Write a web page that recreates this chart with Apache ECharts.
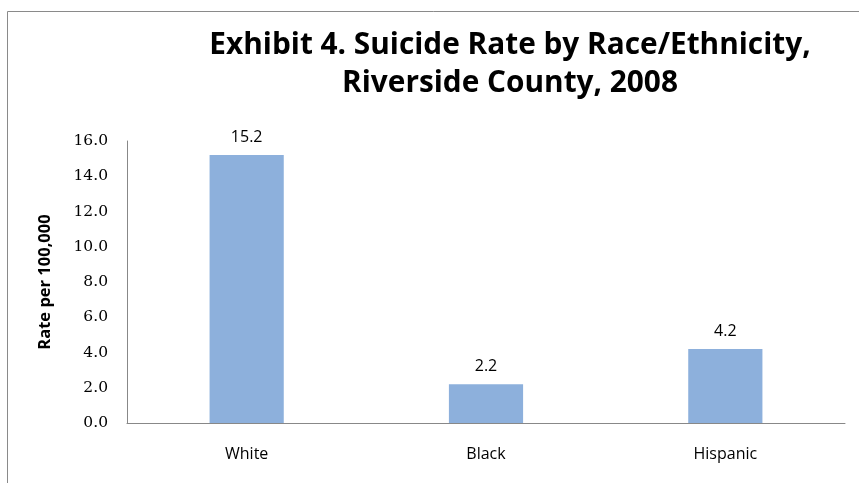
<!DOCTYPE html>
<html>
<head>
<meta charset="utf-8">
<script src="https://cdn.jsdelivr.net/npm/echarts@6/dist/echarts.min.js"></script>
<style>
  html, body { margin: 0; padding: 0; background: #fff; }
  #chart { width: 859px; height: 483px; }
</style>
</head>
<body>
<div id="chart"></div>
<script>
// Suicide rate per 100,000 by race/ethnicity, Riverside County, 2008
const categories = ['White', 'Black', 'Hispanic'];
const rates = [15.2, 2.2, 4.2];
const titleLines = ['Exhibit 4. Suicide Rate by Race/Ethnicity,', 'Riverside County, 2008'];
const yAxisName = 'Rate per 100,000';

const chart = echarts.init(document.getElementById('chart'), null, { renderer: 'canvas' });

chart.setOption({
  animation: false,
  backgroundColor: '#ffffff',
  title: {
    text: titleLines.join('\n'),
    left: 505,
    top: 22,
    textAlign: 'center',
    textStyle: {
      fontFamily: 'Open Sans',
      fontWeight: 'bold',
      fontSize: 29.8,
      lineHeight: 38,
      color: '#000000'
    }
  },
  graphic: [{
    type: 'rect',
    shape: { x: 7.5, y: 11.5, width: 1000, height: 1000 },
    style: { fill: 'none', stroke: '#8a8a8a', lineWidth: 1 },
    silent: true
  }],
  grid: { left: 127, right: 14, top: 141, bottom: 60, containLabel: false },
  xAxis: {
    type: 'category',
    data: categories,
    axisLine: { lineStyle: { color: '#888888', width: 1 } },
    axisTick: { show: false },
    axisLabel: {
      margin: 23,
      fontFamily: 'Open Sans',
      fontSize: 16,
      color: '#000000'
    }
  },
  yAxis: {
    type: 'value',
    min: 0,
    max: 16,
    interval: 2,
    name: yAxisName,
    nameLocation: 'middle',
    nameGap: 73,
    nameRotate: 90,
    nameTextStyle: {
      fontFamily: 'Open Sans',
      fontWeight: 'bold',
      fontSize: 16.5,
      color: '#000000'
    },
    axisLine: { show: true, lineStyle: { color: '#888888', width: 1 } },
    axisTick: { show: false },
    splitLine: { show: false },
    axisLabel: {
      margin: 19,
      fontFamily: 'DejaVu Serif',
      fontSize: 15.5,
      color: '#000000',
      formatter: v => v.toFixed(1)
    }
  },
  series: [{
    type: 'bar',
    data: rates,
    barWidth: '31%',
    itemStyle: { color: '#8db0dc' },
    label: {
      show: true,
      position: 'top',
      distance: 10,
      fontFamily: 'Open Sans',
      fontSize: 16,
      color: '#000000',
      formatter: p => p.value.toFixed(1)
    }
  }]
});
</script>
</body>
</html>
